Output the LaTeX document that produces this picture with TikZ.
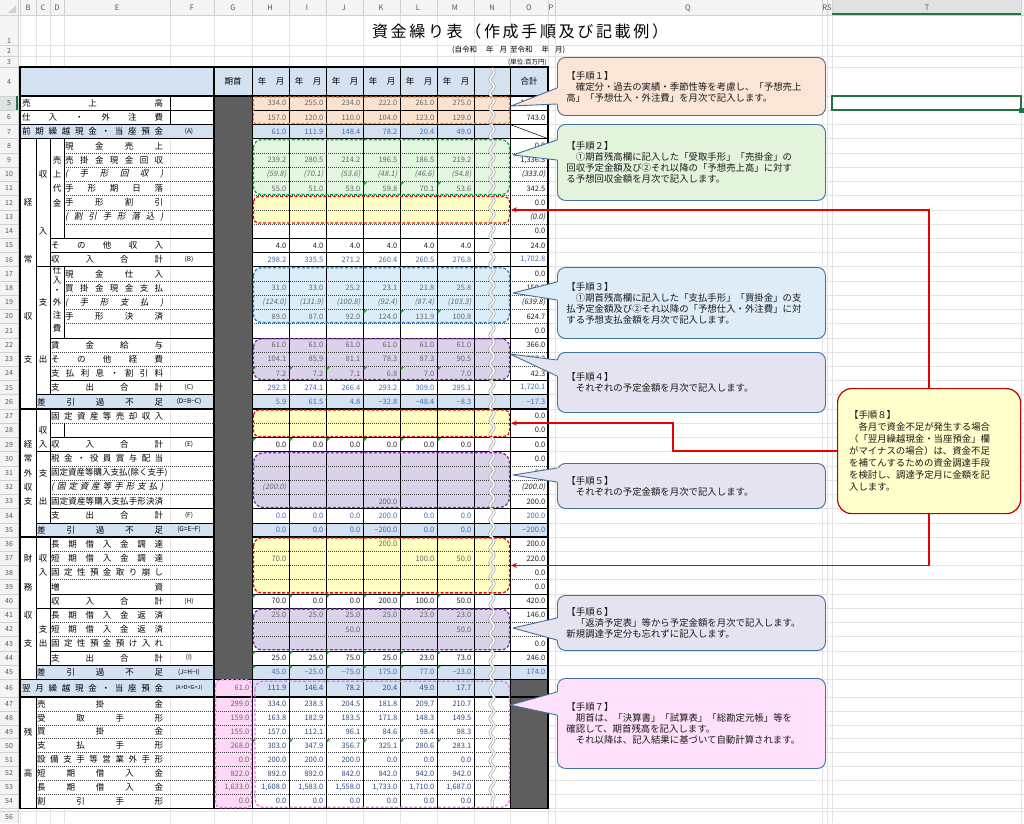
\documentclass[tikz,border=0pt]{standalone}
\usepackage{fontspec}
\setmainfont{Noto Sans CJK JP}
\newfontfamily\jpit{Noto Sans CJK JP}[FakeSlant=0.2]
\usetikzlibrary{decorations.pathmorphing,arrows.meta,calc}
\definecolor{gridcol}{HTML}{E3E3E3}
\definecolor{hdrbg}{HTML}{F4F4F4}
\definecolor{hdrsel}{HTML}{E1E1E1}
\definecolor{hdrl}{HTML}{D0D0D0}
\definecolor{hdrtext}{HTML}{555555}
\definecolor{hatch}{HTML}{D3E1F1}
\definecolor{darkc}{HTML}{5E5E5E}
\definecolor{numgray}{HTML}{666666}
\definecolor{numblk}{HTML}{222222}
\definecolor{numblue}{HTML}{3C6CC0}
\definecolor{numdblue}{HTML}{2A4A8A}
\definecolor{orfill}{HTML}{FBE2CF}
\definecolor{orline}{HTML}{ED7D31}
\definecolor{grfill}{HTML}{E2F6E0}
\definecolor{grline}{HTML}{00B050}
\definecolor{yefill}{HTML}{FFFFC4}
\definecolor{reline}{HTML}{E01010}
\definecolor{blfill}{HTML}{DAEDF8}
\definecolor{blline}{HTML}{1F84D6}
\definecolor{pufill}{HTML}{D9D2E8}
\definecolor{puline}{HTML}{7A30B0}
\definecolor{pifill}{HTML}{FFD7F6}
\definecolor{piline}{HTML}{FF6BF0}
\definecolor{cobord}{HTML}{41719C}
\definecolor{cA}{HTML}{FBE5D6}
\definecolor{cB}{HTML}{E3F4DC}
\definecolor{cC}{HTML}{DDECF7}
\definecolor{cD}{HTML}{E5E3F0}
\definecolor{cG}{HTML}{FFE0FA}
\definecolor{cH}{HTML}{FFFFCC}
\definecolor{cHb}{HTML}{C00000}
\definecolor{arrred}{HTML}{E60000}
\definecolor{xlgreen}{HTML}{217346}
\definecolor{tric}{HTML}{2E9E3E}
\definecolor{wavyc}{HTML}{A8A8A8}
\makeatletter
\newcommand\spreadchars[1]{\def\sc@first{1}\@tfor\sc@c:=#1\do{\ifx\sc@first\@empty\hfill\fi\def\sc@first{}\sc@c}}
\makeatother
\newcommand\lb[3]{\node[lbl] (lb#1) at (#2,{rc(#1)}) {\hbox to \dimexpr163pt-#2pt\relax{\spreadchars{#3}}};}
\newcommand\lbi[3]{\node[lbli] (lb#1) at (#2,{rc(#1)}) {\hbox to \dimexpr163pt-#2pt\relax{\spreadchars{#3}}};}
\newcommand\vals[3]{\foreach \v [count=\i] in {#3} {\node[num,#2] (v#1-\i) at ({252+37*\i-2.5},{rc(#1)}) {\v};}}
\newcommand\va[4]{\node[num,#4] (v#1-#2) at ({252+37*#2-2.5},{rc(#1)}) {#3};}
\newcommand\tot[3]{\node[num,#3] (t#1) at (545.5,{rc(#1)}) {#2};}
\newcommand\gv[2]{\node[num] (g#1) at (249.5,{rc(#1)}) {#2};}
\newcommand\regfill[4][5]{\fill[#2,rounded corners=#1pt] (253.5,{rt(#3)+1}) rectangle (509.5,{rt(#4+1)-1});}
\newcommand\regdraw[4][5]{\draw[regline,draw=#2,rounded corners=#1pt] (253.5,{rt(#3)+1}) rectangle (509.5,{rt(#4+1)-1});}
\newcommand\cwedge[4]{%
  \fill[#1] (#2) -- (557,#3) -- (560,#3) -- (560,#4) -- (557,#4) -- cycle;
  \fill[#1] (556.2,{#3+0.5}) rectangle (559,{#4-0.5});
  \draw[cobord,line width=0.9pt,line join=round] (557,#3) -- (#2) -- (557,#4);}
\begin{document}
\begin{tikzpicture}[x=1pt,y=-1pt,
  declare function={rt(\r)=(\r<=46)*(96+(\r-5)*14.225)+(\r>46)*(697+(\r-47)*13.9);rc(\r)=(rt(\r)+rt(\r+1))/2;},
  gridl/.style={draw=gridcol,line width=0.5pt},
  hdrline/.style={draw=hdrl,line width=0.5pt},
  colhd/.style={font=\fontsize{7.5}{8}\selectfont,text=hdrtext,inner sep=0},
  rowhd/.style={font=\fontsize{7}{8}\selectfont,text=hdrtext,inner sep=0},
  lbl/.style={anchor=west,inner sep=0,font=\fontsize{8.5}{9}\selectfont},
  lbli/.style={anchor=west,inner sep=0,font=\jpit\fontsize{8.5}{9}\selectfont},
  vch/.style={inner sep=0,font=\fontsize{8.5}{9}\selectfont},
  mk/.style={inner sep=0,font=\fontsize{6.5}{7}\selectfont},
  hd/.style={inner sep=0,font=\fontsize{8.5}{9}\selectfont},
  num/.style={anchor=east,inner sep=0,font=\fontsize{7.5}{8}\selectfont,text=numgray},
  numi/.style={font=\jpit\fontsize{7.5}{8}\selectfont},
  bthin/.style={draw=black,line width=0.5pt},
  bmed/.style={draw=black,line width=0.9pt},
  bthick/.style={draw=black,line width=1.3pt},
  dotl/.style={draw=black!75,line width=0.6pt,dash pattern=on 0.7pt off 1.3pt},
  callout/.style={draw=cobord,line width=0.9pt,rounded corners=8pt,anchor=north west,text width=250pt,inner xsep=9pt,inner ysep=2pt,align=left,font=\fontsize{9.4}{11}\selectfont,text=black!90},
  redarr/.style={draw=arrred,color=arrred,line width=1.4pt,-{Stealth[length=6pt,width=5pt]}},
  regline/.style={line width=1.3pt,dash pattern=on 3pt off 1.8pt},
  bl/.style={text=numblue},
  db/.style={text=numdblue},
  bk/.style={text=numblk}
]
\useasboundingbox (0,0) rectangle (1024,823);
\fill[white] (0,0) rectangle (1024,823);
% ---------- Excel grid ----------
\foreach \y in {45,56,67,96,811} \draw[gridl] (18,\y) -- (1024,\y);
\foreach \r in {6,...,55} \draw[gridl] (18,{rt(\r)}) -- (1024,{rt(\r)});
\foreach \x in {20,36,50,64,170,214,252,289,326,363,400,437,474,510,548,555,822,827,832,1021} \draw[gridl] (\x,15) -- (\x,823);
\fill[white] (20,96) rectangle (548,{rt(55)});
\draw[gridl] (170,96) -- (170,{rt(55)});
% headers
\fill[hdrbg] (0,0) rectangle (1024,15);
\fill[hdrbg] (0,15) rectangle (18,823);
\fill[hdrsel] (832,0) rectangle (1021,15);
\fill[hdrsel] (0,{rt(5)}) rectangle (18,{rt(6)});
\foreach \x in {20,36,50,64,170,214,252,289,326,363,400,437,474,510,548,555,822,827,832,1021} \draw[hdrline] (\x,0) -- (\x,15);
\foreach \y in {45,56,67,96,811} \draw[hdrline] (0,\y) -- (18,\y);
\foreach \r in {6,...,55} \draw[hdrline] (0,{rt(\r)}) -- (18,{rt(\r)});
\draw[hdrline] (0,15) -- (1024,15);
\draw[hdrline] (18,0) -- (18,823);
\draw[xlgreen,line width=2pt] (832,14) -- (1021,14);
\draw[xlgreen,line width=2pt] (17,{rt(5)}) -- (17,{rt(6)});
\fill[hdrl] (16,13) -- (16,5) -- (8,13) -- cycle;
\foreach \t/\x in {B/28,C/43,D/57,E/117,F/192,G/233,H/270,I/307,J/344,K/381,L/418,M/455,N/492,O/529,P/551,Q/688,RS/827,T/927} \node[colhd] (ch\t) at (\x,8) {\t};
\foreach \n/\y in {1/41,2/50.5,3/61.5,4/82,56/817} \node[rowhd] (rh\n) at (9,\y) {\n};
\node[rowhd,text=xlgreen] (rh5) at (9,{rc(5)}) {5};
\foreach \n in {6,...,54} \node[rowhd] (rh\n) at (9,{rc(\n)}) {\n};
% ---------- title ----------
\node[inner sep=0,font=\fontsize{16}{18}\selectfont] (title) at (520,31) {\hbox to 296pt{\spreadchars{資金繰り表（作成手順及び記載例）}}};
\node[anchor=west,inner sep=0,font=\fontsize{7.5}{8}\selectfont] (period) at (452,50.5) {(自令和\hspace{9pt}年\hspace{6pt}月\hspace{3pt}至令和\hspace{9pt}年\hspace{6pt}月)};
\node[anchor=east,inner sep=0,font=\fontsize{6.5}{7}\selectfont] (unit) at (547,62) {(単位:百万円)};
% ---------- fills ----------
\fill[hatch] (20,67) rectangle (548,96);
\fill[hatch] (20,{rt(7)}) rectangle (214,{rt(8)});
\fill[hatch] (252,{rt(7)}) rectangle (510,{rt(8)});
\foreach \r in {26,35,45} {\fill[hatch] (36,{rt(\r)}) rectangle (214,{rt(\r+1)}); \fill[hatch] (252,{rt(\r)}) rectangle (548,{rt(\r+1)});}
\fill[hatch] (20,{rt(46)}) rectangle (214,{rt(47)});
\fill[hatch] (252,{rt(46)}) rectangle (510,{rt(47)});
\regfill[1.5]{orfill}{5}{6}
\regfill[8]{grfill}{8}{11}
\regfill[5]{yefill}{12}{13}
\regfill[8]{blfill}{17}{20}
\regfill[8]{pufill}{22}{24}
\regfill[5]{yefill}{27}{28}
\regfill[10]{pufill}{30}{33}
\regfill[8]{yefill}{36}{39}
\regfill[8]{pufill}{41}{43}
\fill[pifill,rounded corners=5pt] (215.5,{rt(46)+0.5}) rectangle (251.5,{rt(55)-0.5});
% ---------- table lines ----------
\foreach \r/\xs in {6/20,7/20,15/50,16/50,17/36,22/50,25/50,26/36,29/50,30/36,34/50,35/36,40/50,41/36,44/50,45/36} \draw[bthin] (\xs,{rt(\r)}) -- (548,{rt(\r)});
\foreach \r/\xs in {9/64,10/64,11/64,12/64,13/64,14/64,18/64,19/64,20/64,21/64,23/50,24/50,28/50,31/50,32/50,33/50,37/50,38/50,39/50,42/50,43/50,48/36,49/36,50/36,51/36,52/36,53/36,54/36} \draw[dotl] (\xs,{rt(\r)}) -- (548,{rt(\r)});
\fill[darkc] (214,{rt(5)}) rectangle (252,{rt(46)});
\fill[darkc] (510,{rt(46)}) rectangle (548,{rt(55)});
\foreach \x in {289,326,363,400,437,474} \draw[bthin] (\x,67) -- (\x,{rt(55)});
\draw[bthin] (36,{rt(8)}) -- (36,{rt(46)});
\draw[bthin] (36,{rt(47)}) -- (36,{rt(55)});
\draw[bthin] (50,{rt(8)}) -- (50,{rt(26)});
\draw[bthin] (50,{rt(27)}) -- (50,{rt(35)});
\draw[bthin] (50,{rt(36)}) -- (50,{rt(45)});
\draw[bthin] (64,{rt(8)}) -- (64,{rt(15)});
\draw[bthin] (64,{rt(17)}) -- (64,{rt(22)});
\draw[bthin] (64,{rt(28)}) -- (64,{rt(29)});
\draw[bthin] (170,{rt(5)}) -- (170,{rt(7)});
\foreach \r in {8,27,36} {\draw[bthick] (20,{rt(\r)}) -- (214,{rt(\r)}); \draw[bthick] (252,{rt(\r)}) -- (548,{rt(\r)});}
\foreach \r in {5,46,47} \draw[bthick] (20,{rt(\r)}) -- (548,{rt(\r)});
\draw[bmed] (252,67) -- (252,{rt(55)});
\draw[bmed] (510,67) -- (510,{rt(55)});
\draw[bthick] (214,67) -- (214,{rt(55)});
\draw[bthick] (20,67) rectangle (548,{rt(55)});
\draw[bthin] (510,{rt(7)}) -- (548,{rt(8)});
% ---------- header row ----------
\node[hd] (hG) at (233,81.5) {期首};
\foreach \i in {1,...,6} {\node[hd] (hy\i) at ({252+37*(\i-1)+10},81.5) {年}; \node[hd] (hm\i) at ({252+37*\i-9},81.5) {月};}
\node[hd] (hO) at (529,81.5) {合計};
% ---------- labels ----------
\lb{5}{22}{売上高}
\lb{6}{22}{仕入・外注費}
\lb{7}{22}{前期繰越現金・当座預金}
\lb{8}{65}{現金売上}
\lb{9}{65}{売掛金現金回収}
\lbi{10}{65}{(手形回収)}
\lb{11}{65}{手形期日落}
\lb{12}{65}{手形割引}
\lbi{13}{65}{(割引手形落込)}
\lb{15}{51}{その他収入}
\lb{16}{51}{収入合計}
\lb{17}{65}{現金仕入}
\lb{18}{65}{買掛金現金支払}
\lbi{19}{65}{(手形支払)}
\lb{20}{65}{手形決済}
\lb{22}{51}{賃金給与}
\lb{23}{51}{その他経費}
\lb{24}{51}{支払利息・割引料}
\lb{25}{51}{支出合計}
\lb{26}{37}{差引過不足}
\lb{27}{51}{固定資産等売却収入}
\lb{29}{51}{収入合計}
\lb{30}{51}{税金・役員賞与配当}
\lb{31}{51}{固定資産等購入支払(除く支手)}
\lbi{32}{51}{(固定資産等手形支払)}
\lb{33}{51}{固定資産等購入支払手形決済}
\lb{34}{51}{支出合計}
\lb{35}{37}{差引過不足}
\lb{36}{51}{長期借入金調達}
\lb{37}{51}{短期借入金調達}
\lb{38}{51}{固定性預金取り崩し}
\lb{39}{51}{増資}
\lb{40}{51}{収入合計}
\lb{41}{51}{長期借入金返済}
\lb{42}{51}{短期借入金返済}
\lb{43}{51}{固定性預金預け入れ}
\lb{44}{51}{支出合計}
\lb{45}{37}{差引過不足}
\lb{46}{22}{翌月繰越現金・当座預金}
\lb{47}{37}{売掛金}
\lb{48}{37}{受取手形}
\lb{49}{37}{買掛金}
\lb{50}{37}{支払手形}
\lb{51}{37}{設備支手等営業外手形}
\lb{52}{37}{短期借入金}
\lb{53}{37}{長期借入金}
\lb{54}{37}{割引手形}
\foreach \ch/\r in {経/12,常/16,収/20,支/23,経/29,常/30,外/31,収/32,支/33,財/37,務/39,収/41,支/43,残/49,高/52} \node[vch] (b\r) at (28,{rc(\r)}) {\ch};
\foreach \ch/\r in {収/10,入/14,支/19,出/23,収/28,入/29,支/31,出/33,収/37,入/38,支/42,出/43} \node[vch] (c\r) at (43,{rc(\r)}) {\ch};
\foreach \ch/\r in {売/9,上/10,代/11,金/12} \node[vch] (d\r) at (57,{rc(\r)}) {\ch};
\foreach \ch/\y [count=\k] in {仕/270,入/280.5,・/291,外/302,注/315,費/328} \node[vch] (dq\k) at (57,\y) {\ch};
\foreach \t/\r in {(A)/7,(B)/16,(C)/25,(D=B−C)/26,(E)/29,(F)/34,(G=E−F)/35,(H)/40,(I)/44,(J=H−I)/45} \node[mk] (mk\r) at (189,{rc(\r)}) {\t};
\node[mk,font=\fontsize{5.5}{6}\selectfont] (mk46) at (189,{rc(46)}) {(A+D+G+J)};
% ---------- values ----------
\vals{5}{}{334.0,255.0,234.0,222.0,261.0,275.0} \tot{5}{1,581.0}{bk}
\vals{6}{}{157.0,120.0,110.0,104.0,123.0,129.0} \tot{6}{743.0}{bk}
\vals{7}{bl}{61.0,111.9,148.4,78.2,20.4,49.0}
\tot{8}{0.0}{bk}
\vals{9}{}{239.2,280.5,214.2,196.5,186.5,219.2} \tot{9}{1,336.3}{bk}
\vals{10}{numi}{(59.8),(70.1),(53.6),(48.1),(46.6),(54.8)} \tot{10}{(333.0)}{bk,numi}
\vals{11}{}{55.0,51.0,53.0,59.8,70.1,53.6} \tot{11}{342.5}{bk}
\tot{12}{0.0}{bk} \tot{13}{(0.0)}{bk,numi} \tot{14}{0.0}{bk}
\vals{15}{bk}{4.0,4.0,4.0,4.0,4.0,4.0} \tot{15}{24.0}{bk}
\vals{16}{bl}{298.2,335.5,271.2,260.4,260.5,276.8} \tot{16}{1,702.8}{bl}
\tot{17}{0.0}{bk}
\vals{18}{}{31.0,33.0,25.2,23.1,21.8,25.8} \tot{18}{159.9}{bk}
\vals{19}{numi}{(124.0),(131.9),(100.8),(92.4),(87.4),(103.3)} \tot{19}{(639.8)}{bk,numi}
\vals{20}{}{89.0,87.0,92.0,124.0,131.9,100.8} \tot{20}{624.7}{bk}
\tot{21}{0.0}{bk}
\vals{22}{}{61.0,61.0,61.0,61.0,61.0,61.0} \tot{22}{366.0}{bk}
\vals{23}{}{104.1,85.9,81.1,78.3,87.3,90.5} \tot{23}{527.2}{bk}
\vals{24}{}{7.2,7.2,7.1,6.8,7.0,7.0} \tot{24}{42.3}{bk}
\vals{25}{bl}{292.3,274.1,266.4,293.2,309.0,285.1} \tot{25}{1,720.1}{bl}
\vals{26}{bl}{5.9,61.5,4.8,−32.8,−48.4,−8.3} \tot{26}{−17.3}{bl}
\tot{27}{0.0}{bk} \tot{28}{0.0}{bk}
\vals{29}{bk}{0.0,0.0,0.0,0.0,0.0,0.0} \tot{29}{0.0}{bk}
\tot{30}{0.0}{bk} \tot{31}{0.0}{bk}
\va{32}{1}{(200.0)}{numi} \tot{32}{(200.0)}{bk,numi}
\va{33}{4}{200.0}{} \tot{33}{200.0}{bk}
\vals{34}{bl}{0.0,0.0,0.0,200.0,0.0,0.0} \tot{34}{200.0}{bl}
\vals{35}{bl}{0.0,0.0,0.0,−200.0,0.0,0.0} \tot{35}{−200.0}{bl}
\va{36}{4}{200.0}{} \tot{36}{200.0}{bk}
\va{37}{1}{70.0}{} \va{37}{5}{100.0}{} \va{37}{6}{50.0}{} \tot{37}{220.0}{bk}
\tot{38}{0.0}{bk} \tot{39}{0.0}{bk}
\vals{40}{bk}{70.0,0.0,0.0,200.0,100.0,50.0} \tot{40}{420.0}{bk}
\vals{41}{}{25.0,25.0,25.0,25.0,23.0,23.0} \tot{41}{146.0}{bk}
\va{42}{3}{50.0}{} \va{42}{6}{50.0}{} \tot{42}{100.0}{bk}
\tot{43}{0.0}{bk}
\vals{44}{bk}{25.0,25.0,75.0,25.0,23.0,73.0} \tot{44}{246.0}{bk}
\vals{45}{bl}{45.0,−25.0,−75.0,175.0,77.0,−23.0} \tot{45}{174.0}{bl}
\gv{46}{61.0} \vals{46}{db}{111.9,146.4,78.2,20.4,49.0,17.7}
\gv{47}{299.0} \vals{47}{db}{334.0,238.3,204.5,181.8,209.7,210.7}
\gv{48}{159.0} \vals{48}{db}{163.8,182.9,183.5,171.8,148.3,149.5}
\gv{49}{155.0} \vals{49}{db}{157.0,112.1,96.1,84.6,98.4,98.3}
\gv{50}{268.0} \vals{50}{db}{303.0,347.9,356.7,325.1,280.6,283.1}
\gv{51}{0.0} \vals{51}{db}{200.0,200.0,200.0,0.0,0.0,0.0}
\gv{52}{822.0} \vals{52}{db}{892.0,892.0,842.0,842.0,942.0,942.0}
\gv{53}{1,633.0} \vals{53}{db}{{1,608.0},{1,583.0},{1,558.0},{1,733.0},{1,710.0},{1,687.0}}
\gv{54}{0.0} \vals{54}{db}{0.0,0.0,0.0,0.0,0.0,0.0}
% green indicators
\foreach \r/\cs in {11/{4,5,6},20/{4,5,6},24/{1,2,3,4,5,6},29/{1,2,3,4,5,6},40/{1,2,3,4,5,6},44/{1,2,3,4,5,6},45/{1,2,3,4,5,6},50/{1,2,3,4,5,6}} {\foreach \c in \cs {\fill[tric] ({252+37*(\c-1)+0.7},{rt(\r)+0.7}) -- ++(3.5,0) -- ++(-3.5,3.5) -- cycle;}}
% wavy break column
\draw[decorate,decoration={snake,amplitude=2pt,segment length=14.2pt},line width=3pt,draw=wavyc] (492,68) -- (492,807);
\draw[decorate,decoration={snake,amplitude=2pt,segment length=14.2pt},line width=1.5pt,draw=white] (492,68) -- (492,807);
% region outlines
\regdraw[1.5]{orline}{5}{6}
\regdraw[8]{grline}{8}{11}
\regdraw[5]{reline}{12}{13}
\regdraw[8]{blline}{17}{20}
\regdraw[8]{puline}{22}{24}
\regdraw[5]{reline}{27}{28}
\regdraw[10]{puline}{30}{33}
\regdraw[8]{reline}{36}{39}
\regdraw[8]{puline}{41}{43}
\draw[regline,draw=piline,rounded corners=5pt] (215.5,{rt(46)+0.5}) rectangle (251.5,{rt(55)-0.5});
\draw[regline,draw=piline,rounded corners=8pt] (255,{rt(46)+2}) rectangle (509.5,{rt(55)-1});
% ---------- callouts ----------
\node[callout,fill=cA,minimum height=58pt] (s1) at (557,57) {【手順１】\\　確定分・過去の実績・季節性等を考慮し、「予想売上\\高」「予想仕入・外注費」を月次で記入します。};
\node[callout,fill=cB,minimum height=76pt] (s2) at (557,124) {【手順２】\\　①期首残高欄に記入した「受取手形」「売掛金」の\\回収予定金額及び②それ以降の「予想売上高」に対す\\る予想回収金額を月次で記入します。};
\node[callout,fill=cC,minimum height=71pt] (s3) at (557,267) {【手順３】\\　①期首残高欄に記入した「支払手形」「買掛金」の支\\払予定金額及び②それ以降の「予想仕入・外注費」に対\\する予想支払金額を月次で記入します。};
\node[callout,fill=cD,minimum height=60pt] (s4) at (557,352) {【手順４】\\　それぞれの予定金額を月次で記入します。};
\node[callout,fill=cD,minimum height=45pt] (s5) at (557,463) {【手順５】\\　それぞれの予定金額を月次で記入します。};
\node[callout,fill=cD,minimum height=55pt] (s6) at (557,595) {【手順６】\\　「返済予定表」等から予定金額を月次で記入します。\\新規調達予定分も忘れずに記入します。};
\node[callout,fill=cG,minimum height=90pt] (s7) at (557,678) {【手順７】\\　期首は、「決算書」「試算表」「総勘定元帳」等を\\確認して、期首残高を記入します。\\　それ以降は、記入結果に基づいて自動計算されます。};
\coordinate (p1) at (511,106);
\coordinate (p2) at (513,155);
\coordinate (p3) at (513,293);
\coordinate (p4) at (510,354);
\coordinate (p5) at (513,475);
\coordinate (p6) at (513,628);
\coordinate (p7) at (510,705);
\cwedge{cA}{p1}{88}{104}
\cwedge{cB}{p2}{140}{160}
\cwedge{cC}{p3}{282}{300}
\cwedge{cD}{p4}{360}{376}
\cwedge{cD}{p5}{468}{482}
\cwedge{cD}{p6}{618}{640}
\cwedge{cG}{p7}{692}{715}
\node[callout,fill=cH,draw=cHb,line width=1.2pt,rounded corners=14pt,text width=160pt,inner xsep=11.5pt,minimum height=125pt,font=\fontsize{9.4}{12}\selectfont] (s8) at (837,388) {【手順８】\\　各月で資金不足が発生する場合\\（「翌月繰越現金・当座預金」欄\\がマイナスの場合）は、資金不足\\を補てんするための資金調達手段\\を検討し、調達予定月に金額を記\\入します。};
\coordinate (ye1) at (511,{(rt(12)+rt(14))/2});
\coordinate (ye2) at (511,{(rt(27)+rt(29))/2});
\coordinate (ye3) at (511,{(rt(36)+rt(40))/2});
\coordinate (bend) at (673,{(rt(27)+rt(29))/2});
\draw[redarr] (s8.north) |- (ye1);
\draw[redarr] (s8.west) -| (bend) -- (ye2);
\draw[redarr] (s8.south) |- (ye3);
% selected cell
\draw[xlgreen,line width=1.8pt] (832,{rt(5)}) rectangle (1021,{rt(6)});
\fill[xlgreen] (1019,{rt(6)-2}) rectangle (1024,{rt(6)+3});
\end{tikzpicture}
\end{document}
